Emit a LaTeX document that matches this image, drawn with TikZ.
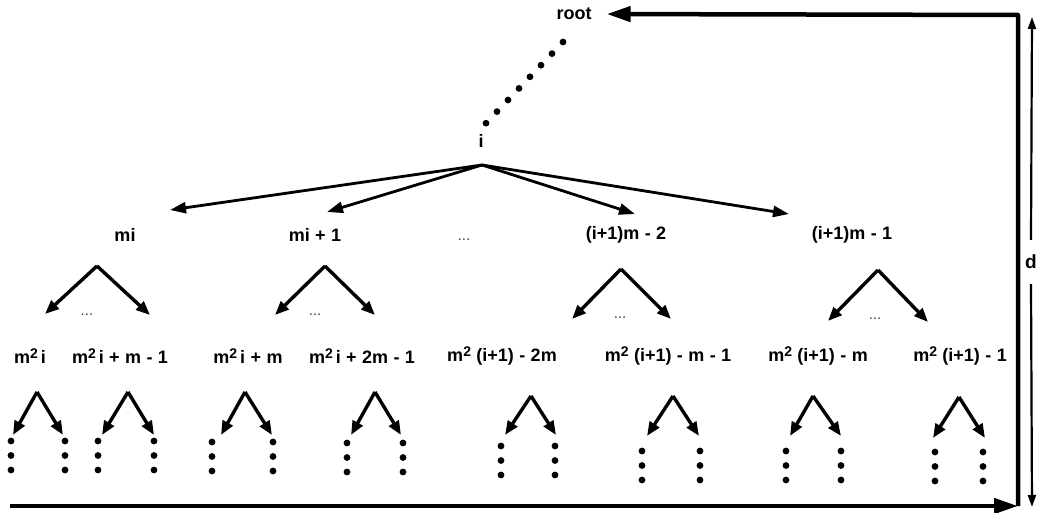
\documentclass[tikz,border=0pt]{standalone}
\usepackage{fontspec}
\setmainfont{Liberation Sans}
\usetikzlibrary{arrows.meta}
\newcommand\msq{m\raisebox{0.5ex}{\fontsize{14}{14}\selectfont 2}}
\newcommand\gp{\hspace{0.3em}}
\begin{document}
\begin{tikzpicture}[x=1pt,y=-1pt,
  lbl/.style={font=\fontsize{18}{20}\selectfont\bfseries, inner sep=0pt},
  ell/.style={font=\fontsize{15}{15}\selectfont, inner sep=0pt, text=black!75},
  big/.style={line width=4.5pt, -{Triangle[length=24pt,width=15pt]}},
  br/.style={line width=2.8pt, -{Triangle[length=16pt,width=11pt]}},
  sub/.style={line width=3.4pt, -{Triangle[length=14pt,width=11pt]}, line join=round},
  dar/.style={line width=2.2pt, -{Triangle[length=12pt,width=8pt]}},
]
\useasboundingbox (0,0) rectangle (1037,513);
% root and i
\node[lbl] (root) at (574,14) {root};
\node[lbl] (i) at (481,141) {i};
\foreach \k in {0,...,7}
  \fill ({563-\k*11},{42+\k*11.6}) circle (3.4pt);
\coordinate (ia) at (482,165);
% level 1 labels
\node[lbl] (mi) at (125,235) {mi};
\node[lbl] (mi1) at (315,235) {mi\gp+\gp 1};
\node[ell] (e1) at (464,240) {...};
\node[lbl] (a2) at (626,235) {(i+1)m\gp-\gp 2};
\node[lbl] (a1) at (852,235) {(i+1)m\gp-\gp 1};
\coordinate (t1) at (170,210);
\coordinate (t2) at (327,212);
\coordinate (t3) at (635,214);
\coordinate (t4) at (789,214);
\foreach \t in {t1,t2,t3,t4} \draw[br] (ia) -- (\t);
% level 1 subtrees
\foreach \n/\ax/\ay/\lx/\ly/\rx/\ry/\ex/\ey in {
  p1/97/266/45/314/150/315/87/315,
  p2/325/266/275/315/375/315/315/315,
  p3/621/269/572/319/671/319/620/318,
  p4/878/270/828/321/928/322/875/319}{
  \coordinate (\n a) at (\ax,\ay);
  \coordinate (\n l) at (\lx,\ly);
  \coordinate (\n r) at (\rx,\ry);
  \draw[sub] (\n a) -- (\n l);
  \draw[sub] (\n a) -- (\n r);
  \node[ell] (\n e) at (\ex,\ey) {...};
}
% level 2 labels
\node[lbl] (b1) at (30,356) {\msq\,i};
\node[lbl] (b2) at (120,356) {\msq\,i\gp+\gp m\gp-\gp 1};
\node[lbl] (b3) at (248,356) {\msq\,i\gp+\gp m};
\node[lbl] (b4) at (362,356) {\msq\,i\gp+\gp 2m\gp-\gp 1};
\node[lbl] (b5) at (502,356) {\msq\gp(i+1)\gp-\gp 2m};
\node[lbl] (b6) at (668,356) {\msq\gp(i+1)\gp-\gp m\gp-\gp 1};
\node[lbl] (b7) at (818,356) {\msq\gp(i+1)\gp-\gp m};
\node[lbl] (b8) at (960,356) {\msq\gp(i+1)\gp-\gp 1};
% level 2 arrows and dots
\foreach \n/\ax/\ay/\lx/\rx/\ty/\dl/\dr/\dy in {
  q1/37/392/13/63/435/11/65/441,
  q2/128/392/102/154/435/98/154/441,
  q3/245/392/221/272/435/212/273/442,
  q4/375/392/351/401/435/347/403/443,
  q5/531/396/505/556/435/501/555/446,
  q6/673/396/647/699/436/642/700/451,
  q7/813/396/790/841/436/786/841/451,
  q8/959/397/933/985/438/935/983/452}{
  \coordinate (\n a) at (\ax,\ay);
  \coordinate (\n l) at (\lx,\ty);
  \coordinate (\n r) at (\rx,\ty);
  \draw[sub] (\n a) -- (\n l);
  \draw[sub] (\n a) -- (\n r);
  \foreach \j in {0,1,2}{
    \fill (\dl,{\dy+\j*14.5}) circle (3.4pt);
    \fill (\dr,{\dy+\j*14.5}) circle (3.4pt);
  }
}
% frame
\coordinate (bl) at (10,506);
\coordinate (brc) at (1018,506);
\coordinate (trc) at (1018,15);
\draw[big] (bl) -- (brc);
\draw[big, line join=round, shorten >=15pt] (brc) -- (trc) -- (root.east);
% d arrow
\node[font=\fontsize{19}{21}\selectfont\bfseries, inner xsep=0pt, inner ysep=15pt] (d) at (1031,262) {d};
\coordinate (dt) at (1032,17);
\coordinate (db) at (1032,507);
\draw[dar] (d.north) -- (dt);
\draw[dar] (d.south) -- (db);
\end{tikzpicture}
\end{document}
